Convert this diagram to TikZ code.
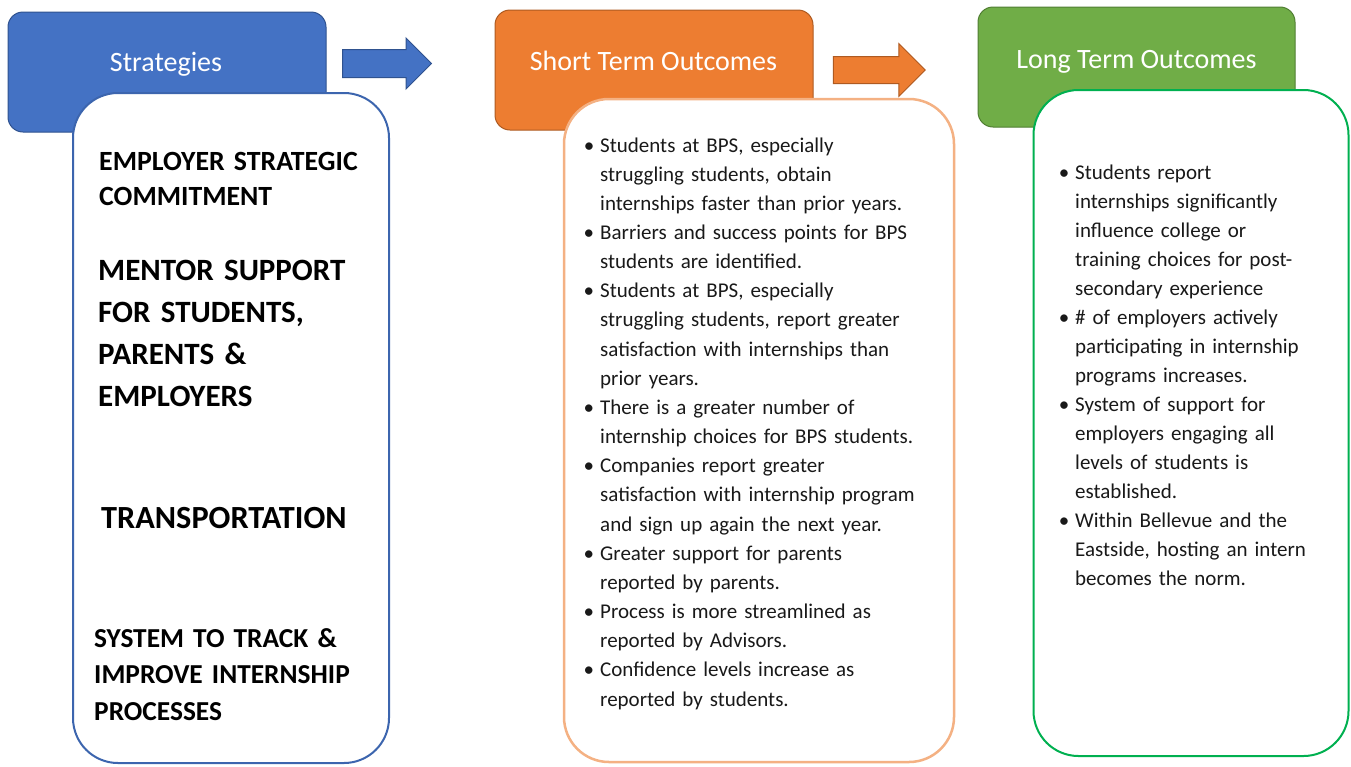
\documentclass[tikz,border=0pt]{standalone}
\usepackage{fontspec}
\setmainfont{Carlito}
\usetikzlibrary{shapes.arrows}
\definecolor{stratblue}{HTML}{4472C4}
\definecolor{stratedge}{HTML}{2F528F}
\definecolor{shortorange}{HTML}{ED7D31}
\definecolor{shortedge}{HTML}{AE5A21}
\definecolor{shortline}{HTML}{F4B183}
\definecolor{longgreen}{HTML}{70AD47}
\definecolor{longedge}{HTML}{507E32}
\definecolor{longline}{HTML}{00B050}
\definecolor{panelblue}{HTML}{3C65AE}
\newcommand{\firstpoint}{\noindent\llap{\textbullet\hspace{6pt}}}
\newcommand{\outpoint}{\par\noindent\llap{\textbullet\hspace{6pt}}}
\begin{document}
\begin{tikzpicture}[x=1pt,y=-1pt,
  hdr/.style={draw,rounded corners=15pt,line width=1pt,inner sep=0pt,minimum height=120pt},
  hdrtext/.style={text=white,font=\fontsize{28}{33}\selectfont,inner sep=0pt,anchor=base},
  panel/.style={draw,fill=white,rounded corners=45pt,line width=2pt,inner sep=0pt},
  flow/.style={single arrow,draw,line width=1pt,inner xsep=0pt,single arrow head indent=0pt,shape border rotate=0},
  strat/.style={anchor=base west,inner sep=0pt,text width=300pt,align=left},
  outlist/.style={anchor=base west,inner sep=0pt,text width=345pt,align=left,text=black!90}]
\useasboundingbox (0,0) rectangle (1351,766);

% column headers
\node[hdr,fill=stratblue,draw=stratedge,minimum width=318pt] (stratH) at (167,72) {};
\node[hdr,fill=shortorange,draw=shortedge,minimum width=318pt] (shortH) at (654,70) {};
\node[hdr,fill=longgreen,draw=longedge,minimum width=317pt] (longH) at (1136.5,67) {};
\node[hdrtext] (stratT) at (166,71) {Strategies};
\node[hdrtext] (shortT) at (653.5,70) {Short Term Outcomes};
\node[hdrtext] (longT) at (1136.5,68) {Long Term Outcomes};

% arrows between the columns
\node[flow,fill=stratblue,draw=stratedge,minimum height=89pt,inner ysep=13.5pt,single arrow head extend=11.5pt] (arrA) at (380,63.5) {};
\node[flow,fill=shortorange,draw=shortedge,minimum height=92pt,inner ysep=13pt,single arrow head extend=13pt] (arrB) at (872.5,70) {};

% panels
\node[panel,draw=panelblue,minimum width=316pt,minimum height=670pt] (stratP) at (231,428) {};
\node[panel,draw=shortline,line width=2.5pt,minimum width=390pt,minimum height=663pt] (shortP) at (759,430.5) {};
\node[panel,draw=longline,minimum width=315pt,minimum height=666pt] (longP) at (1191,423) {};

% strategies
\node[strat,font=\fontsize{27.8}{35}\selectfont\bfseries] (empS) at (99,170) {EMPLOYER STRATEGIC\\COMMITMENT};
\node[strat,font=\fontsize{31}{42}\selectfont\bfseries] (menS) at (98,280) {MENTOR SUPPORT\\FOR STUDENTS,\\PARENTS \&\\EMPLOYERS};
\node[strat,font=\fontsize{32.3}{42}\selectfont\bfseries] (traS) at (101,528) {TRANSPORTATION};
\node[strat,font=\fontsize{27.4}{36.5}\selectfont\bfseries] (sysS) at (94,647) {SYSTEM TO TRACK \&\\IMPROVE INTERNSHIP\\PROCESSES};

% short term outcomes
\node[outlist,font=\fontsize{21}{29.16}\selectfont] (shortL) at (600,152) {%
\firstpoint Students at BPS, especially\\struggling students, obtain\\internships faster than prior years.
\outpoint Barriers and success points for BPS\\students are identified.
\outpoint Students at BPS, especially\\struggling students, report greater\\satisfaction with internships than\\prior years.
\outpoint There is a greater number of\\internship choices for BPS students.
\outpoint Companies report greater\\satisfaction with internship program\\and sign up again the next year.
\outpoint Greater support for parents\\reported by parents.
\outpoint Process is more streamlined as\\reported by Advisors.
\outpoint Confidence levels increase as\\reported by students.};

% long term outcomes
\node[outlist,font=\fontsize{21}{29}\selectfont] (longL) at (1075,179) {%
\firstpoint Students report\\internships significantly\\influence college or\\training choices for post-\\secondary experience
\outpoint \# of employers actively\\participating in internship\\programs increases.
\outpoint System of support for\\employers engaging all\\levels of students is\\established.
\outpoint Within Bellevue and the\\Eastside, hosting an intern\\becomes the norm.};
\end{tikzpicture}
\end{document}
